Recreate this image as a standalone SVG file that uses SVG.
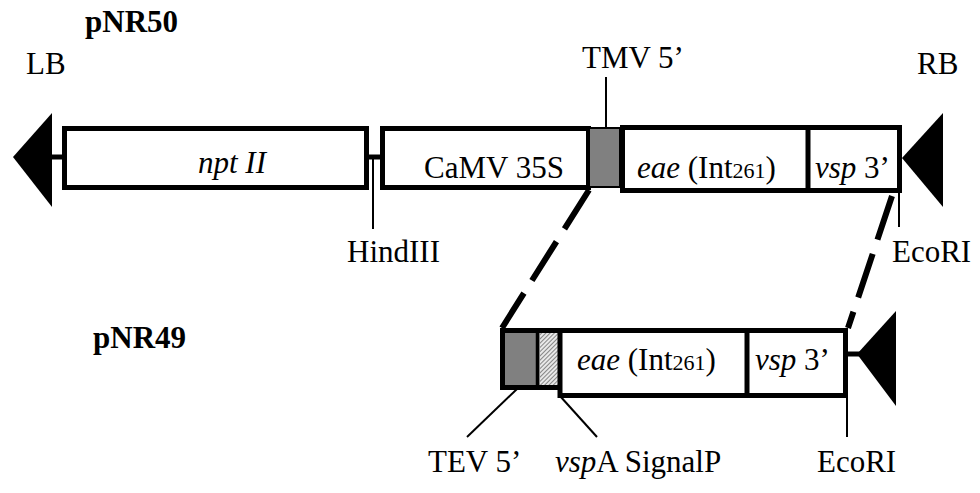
<svg xmlns="http://www.w3.org/2000/svg" width="980" height="493" viewBox="0 0 980 493">
<style>
text{font-family:"Liberation Serif","Times New Roman",serif;font-size:31px;fill:#000}
.b{font-weight:bold}
.i{font-style:italic}
.sm{font-size:22px}
.box{fill:#fff;stroke:#000;stroke-width:5;stroke-linejoin:miter}
.thick{stroke:#000;stroke-width:5;fill:none}
.tick{stroke:#000;stroke-width:2;fill:none}
.dash{stroke:#000;stroke-width:6;fill:none;stroke-dasharray:46 15}
.tri{fill:#000}
</style>
<defs>
<pattern id="hatch" patternUnits="userSpaceOnUse" width="3" height="3" patternTransform="rotate(45)">
<rect width="3" height="3" fill="#e8e8e8"/>
<line x1="0" y1="0" x2="0" y2="3" stroke="#444" stroke-width="1.2"/>
</pattern>
</defs>

<g id="titles">
<text class="b" x="85" y="32">pNR50</text>
<text class="b" x="93" y="348">pNR49</text>
</g>

<g id="LB">
<polygon class="tri" points="13,157 52,113 52,207"/>
<text x="26" y="74">LB</text>
</g>

<g id="nptII">
<rect class="box" x="64.5" y="128.5" width="302" height="59"/>
<text class="i" x="232" y="173" text-anchor="middle">npt II</text>
</g>

<g id="CaMV35S">
<rect class="box" x="382.5" y="128.5" width="206" height="59"/>
<text x="494" y="178" text-anchor="middle">CaMV 35S</text>
</g>

<g id="TMV5">
<rect x="589" y="128" width="31" height="59" fill="#808080" stroke="#000" stroke-width="2"/>
<text x="582" y="68">TMV 5’</text>
</g>

<g id="eae-top">
<rect class="box" x="622.5" y="127.5" width="277" height="63"/>
<line class="thick" x1="808" y1="127.5" x2="808" y2="190.5"/>
<text x="637" y="178"><tspan class="i">eae</tspan> (Int<tspan class="sm">261</tspan>)</text>
<text x="815" y="178"><tspan class="i">vsp</tspan> 3’</text>
</g>

<g id="RB">
<polygon class="tri" points="902,158 943,113 943,207"/>
<text x="917" y="74">RB</text>
</g>

<g id="HindIII">
<text x="347" y="262">HindIII</text>
</g>

<g id="EcoRI-top">
<text x="892" y="262">EcoRI</text>
</g>

<g id="pNR49-left">
<rect x="502.5" y="330.5" width="57" height="57" fill="#fff" stroke="#000" stroke-width="5"/>
<rect x="505" y="333" width="30.5" height="52" fill="#808080"/>
<rect x="540" y="333" width="18" height="52" fill="url(#hatch)"/>
<line x1="537.5" y1="330.5" x2="537.5" y2="387.5" stroke="#000" stroke-width="4"/>
</g>

<g id="eae-bottom">
<rect class="box" x="560" y="330.5" width="285.5" height="65"/>
<line class="thick" x1="747" y1="330.5" x2="747" y2="395.5"/>
<text x="577" y="370"><tspan class="i">eae</tspan> (Int<tspan class="sm">261</tspan>)</text>
<text x="755" y="370"><tspan class="i">vsp</tspan> 3’</text>
</g>

<g id="RB-bottom">
<polygon class="tri" points="857,354 896,311 896,406"/>
</g>

<g id="TEV5">
<text x="428" y="472">TEV 5’</text>
</g>
<g id="vspA">
<text x="555" y="472"><tspan class="i">vsp</tspan>A SignalP</text>
</g>
<g id="EcoRI-bottom">
<text x="817" y="472">EcoRI</text>
</g>

<g id="connectors">
<line class="thick" x1="50" y1="157" x2="64" y2="157"/>
<line class="thick" x1="367" y1="157" x2="382" y2="157"/>
<line class="tick" x1="373" y1="157" x2="373" y2="229"/>
<line class="tick" x1="606" y1="77" x2="606" y2="127"/>
<line class="tick" x1="899" y1="190" x2="899" y2="227"/>
<line class="thick" x1="845" y1="354" x2="860" y2="354"/>
<line class="tick" x1="517" y1="389" x2="467" y2="437"/>
<line class="tick" x1="560" y1="396" x2="597" y2="437"/>
<line class="tick" x1="847" y1="396" x2="847" y2="437"/>
<line class="dash" x1="589" y1="190" x2="502" y2="328"/>
<line class="dash" x1="892" y1="196" x2="848" y2="328"/>
</g>
</svg>
